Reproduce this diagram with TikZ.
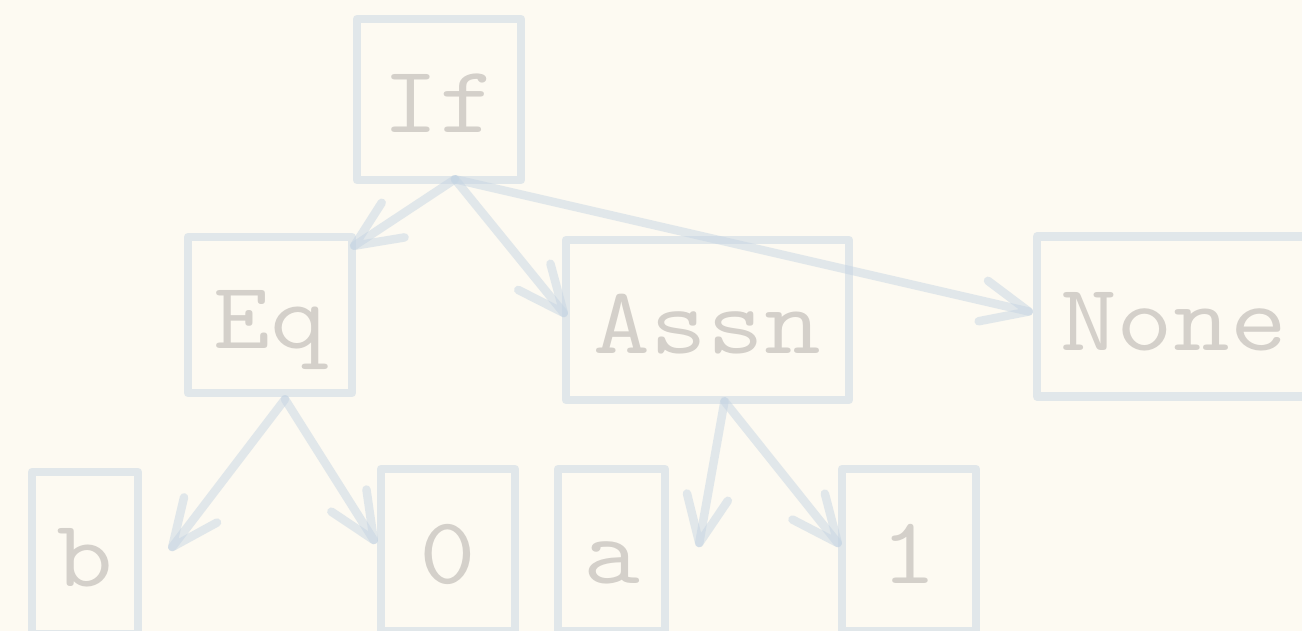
\documentclass[tikz,border=0pt]{standalone}
\usepackage{fontspec}
\setmonofont{Latin Modern Mono}[FakeStretch=1.16]
\usetikzlibrary{calc}
\definecolor{bg}{RGB}{253,250,242}
\definecolor{edge}{RGB}{196,212,226}
\definecolor{txt}{RGB}{212,208,202}
\newcommand{\treearrow}[2]{%
  \draw[conn] (#1) -- (#2);
  \draw[conn] ($(#2)!51pt!24:(#1)$) -- (#2) -- ($(#2)!51pt!-24:(#1)$);}
\begin{document}
\begin{tikzpicture}[x=1pt,y=-1pt,
  box/.style={draw=edge, draw opacity=0.48, line width=8.5pt, line join=round, rectangle, inner sep=0pt,
    font=\ttfamily\fontsize{95}{95}\selectfont, text=txt, text height=67pt, text depth=0pt},
  conn/.style={draw=edge, draw opacity=0.48, line width=8.5pt, line cap=round, line join=round}]
\fill[bg] (0,0) rectangle (1302,631);
\useasboundingbox (0,0) rectangle (1302,631);
\node[box, minimum width=164pt, minimum height=161pt] (If) at (439,99.5) {If};
\node[box, minimum width=164pt, minimum height=156pt] (Eq) at (270,315) {Eq};
\node[box, minimum width=283pt, minimum height=160pt] (Assn) at (707.5,320) {Assn};
\node[box, minimum width=273pt, minimum height=160pt] (None) at (1173.5,316.5) {None};
\node[box, minimum width=106pt, minimum height=162pt] (b) at (85,553) {b};
\node[box, minimum width=134pt, minimum height=162pt] (zero) at (448,550) {0};
\node[box, minimum width=107pt, minimum height=162pt] (a) at (611.5,550) {a};
\node[box, minimum width=134pt, minimum height=162pt] (one) at (909,550) {1};
\coordinate (sIf) at ([shift={(16,-5)}]If.south);
\coordinate (sEq) at ([shift={(15,2)}]Eq.south);
\coordinate (sAssn) at ([shift={(17,-3)}]Assn.south);
\coordinate (tEq) at ([shift={(-2,13)}]Eq.north east);
\coordinate (tAssn) at ([shift={(2,-7)}]Assn.west);
\coordinate (tNone) at ([shift={(-4,-5)}]None.west);
\coordinate (tb) at ([shift={(30,-6)}]b.east);
\coordinate (tzero) at ([shift={(-3,-10)}]zero.west);
\coordinate (ta) at ([shift={(30,-7)}]a.east);
\coordinate (tone) at ([shift={(0,-7)}]one.west);
\treearrow{sIf}{tEq}
\treearrow{sIf}{tAssn}
\treearrow{sIf}{tNone}
\treearrow{sEq}{tb}
\treearrow{sEq}{tzero}
\treearrow{sAssn}{ta}
\treearrow{sAssn}{tone}
\end{tikzpicture}
\end{document}
